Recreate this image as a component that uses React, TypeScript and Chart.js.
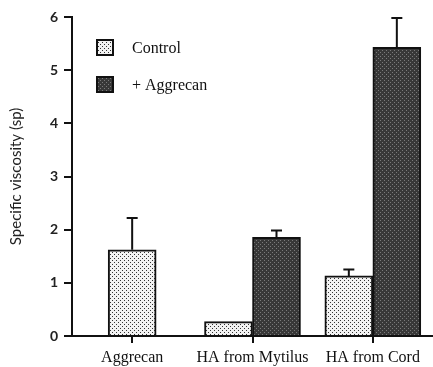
import React, { useEffect, useRef } from "react";
import { Chart, registerables } from "chart.js";

Chart.register(...registerables);

const categories = ["Aggrecan", "HA from Mytilus", "HA from Cord"];
const controlValues = [1.62, 0.27, 1.13];
const controlErrors = [0.6, 0, 0.12];
const aggrecanValues: (number | null)[] = [null, 1.855, 5.43];
const aggrecanErrors: (number | null)[] = [null, 0.13, 0.55];
const legendLabels = ["Control", "+ Aggrecan"];
const yTitle = "Specific viscosity (sp)";

function makePattern(bg: string, dot: string): CanvasPattern | string {
  const c = document.createElement("canvas");
  c.width = 4;
  c.height = 4;
  const g = c.getContext("2d");
  if (!g) return bg;
  g.fillStyle = bg;
  g.fillRect(0, 0, 4, 4);
  g.fillStyle = dot;
  g.fillRect(0, 0, 1, 1);
  g.fillRect(2, 2, 1, 1);
  const p = g.createPattern(c, "repeat");
  return p || bg;
}

export default function App() {
  const ref = useRef<HTMLCanvasElement>(null);
  useEffect(() => {
    if (!ref.current) return;
    const controlFill = makePattern("#f2f2f2", "#333");
    const aggFill = makePattern("#383838", "#7a7a7a");
    const errs = [controlErrors, aggrecanErrors];

    const overlay = {
      id: "overlay",
      afterDatasetsDraw(chart: any) {
        const ctx = chart.ctx;
        const y = chart.scales.y;
        ctx.save();
        ctx.strokeStyle = "#111";
        ctx.lineWidth = 2;
        chart.data.datasets.forEach((ds: any, di: number) => {
          const meta = chart.getDatasetMeta(di);
          meta.data.forEach((bar: any, i: number) => {
            const v = ds.data[i];
            const e = errs[di][i];
            if (v == null || !e) return;
            const x = bar.x;
            const top = y.getPixelForValue(v);
            const end = y.getPixelForValue(v + e);
            ctx.beginPath();
            ctx.moveTo(x, top);
            ctx.lineTo(x, end);
            ctx.moveTo(x - 5.5, end);
            ctx.lineTo(x + 5.5, end);
            ctx.stroke();
          });
        });
        // legend
        const fills = [controlFill, aggFill];
        const boxY = [40, 77];
        ctx.font = "16px 'Liberation Serif'";
        ctx.textBaseline = "middle";
        legendLabels.forEach((lab, i) => {
          ctx.fillStyle = fills[i] as any;
          ctx.fillRect(97, boxY[i], 16, 15);
          ctx.lineWidth = 2;
          ctx.strokeStyle = "#111";
          ctx.strokeRect(97, boxY[i], 16, 15);
          ctx.fillStyle = "#111";
          ctx.fillText(lab, 132, boxY[i] + 9);
        });
        ctx.restore();
      },
    };

    const chart = new Chart(ref.current, {
      type: "bar",
      data: {
        labels: categories,
        datasets: [
          {
            label: legendLabels[0],
            data: controlValues,
            backgroundColor: controlFill as any,
            borderColor: "#111",
            borderWidth: 2,
            borderSkipped: "bottom",
          },
          {
            label: legendLabels[1],
            data: aggrecanValues,
            backgroundColor: aggFill as any,
            borderColor: "#111",
            borderWidth: 2,
            borderSkipped: "bottom",
          },
        ],
      },
      options: {
        responsive: false,
        animation: false,
        skipNull: true,
        barThickness: 48,
        layout: { padding: { top: 17, right: 0, left: 0, bottom: 0 } },
        plugins: {
          legend: { display: false },
          tooltip: { enabled: false },
        },
        scales: {
          x: {
            afterFit: (s: any) => {
              s.height = 31;
            },
            grid: {
              offset: false,
              drawOnChartArea: false,
              drawTicks: true,
              tickLength: 7,
              color: "#111",
              lineWidth: 2,
            },
            border: { display: true, color: "#111", width: 2 },
            ticks: {
              color: "#111",
              padding: 5,
              font: { family: "'Liberation Serif'", size: 16 },
              maxRotation: 0,
            },
          },
          y: {
            min: 0,
            max: 6,
            afterFit: (s: any) => {
              s.width = 72;
            },
            grid: {
              drawOnChartArea: false,
              drawTicks: true,
              tickLength: 8,
              color: "#111",
              lineWidth: 2,
            },
            border: { display: true, color: "#111", width: 2 },
            ticks: {
              stepSize: 1,
              color: "#222",
              padding: 6,
              font: { family: "Lato", size: 14, weight: "bold" },
            },
            title: {
              display: true,
              text: yTitle,
              color: "#222",
              padding: { top: 7, bottom: 0 },
              font: { family: "Lato", size: 15 },
            },
          },
        },
      } as any,
      plugins: [overlay],
    });
    return () => chart.destroy();
  }, []);
  return (
    <canvas
      ref={ref}
      width={433}
      height={367}
      style={{ position: "fixed", left: 0, top: 0, display: "block" }}
    />
  );
}
